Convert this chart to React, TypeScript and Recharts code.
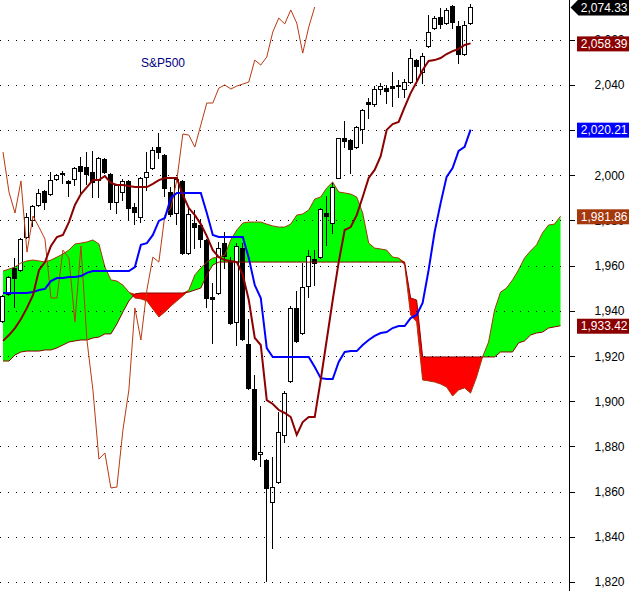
import React from "react";
import { ComposedChart, Bar, Line, Area, XAxis, YAxis, ReferenceLine } from "recharts";

const W = 629;
const H = 591;
const Y_MIN = 1816;
const Y_MAX = 2077.6;

const opens = [1935.5, 1947.5, 1959.0, 1958.1, 1972.7, 1980.2, 1986.9, 1993.1, 1991.7, 1998.4,
  2001.0, 1997.5, 1998.4, 2004.1, 2003.7, 2001.5, 1997.9, 2007.2, 2000.6, 1988.2,
  1992.6, 1997.5, 1986.0, 1981.5, 1999.3, 2003.2, 2012.5, 2009.0, 1992.6, 1983.3,
  1997.5, 1965.6, 1978.9, 1978.0, 1971.4, 1946.1, 1947.9, 1970.0, 1962.1, 1935.1,
  1967.8, 1925.3, 1905.4, 1876.6, 1874.0, 1855.4, 1864.3, 1885.1, 1909.0, 1941.3,
  1930.2, 1951.0, 1963.0, 1963.8, 1983.3, 1978.9, 1999.0, 2016.3, 2015.6, 2012.7,
  2020.7, 2032.5, 2031.6, 2038.2, 2038.6, 2039.5, 2039.5, 2038.2, 2041.3, 2051.0,
  2045.7, 2057.2, 2065.2, 2070.1, 2067.4, 2074.9, 2066.1, 2053.7, 2067.4];

const highs = [1947.0, 1955.5, 1963.4, 1972.2, 1983.3, 1986.8, 1993.9, 1993.5, 2001.5, 2000.5,
  2001.9, 1997.9, 2003.6, 2008.1, 2010.3, 2010.8, 2008.1, 2007.6, 2001.0, 1996.1,
  1998.4, 1997.9, 1987.7, 1999.2, 2010.3, 2012.5, 2018.7, 2009.4, 1994.8, 1999.3,
  1997.9, 1986.0, 1984.6, 1980.7, 1971.8, 1952.3, 1970.5, 1974.9, 1963.8, 1970.0,
  1970.0, 1936.4, 1911.6, 1897.9, 1874.4, 1875.3, 1895.2, 1904.5, 1942.1, 1948.8,
  1961.2, 1966.9, 1966.9, 1985.5, 1990.8, 1997.0, 2016.7, 2024.0, 2016.0, 2022.0,
  2029.5, 2034.2, 2039.5, 2040.9, 2040.0, 2045.7, 2042.2, 2042.6, 2055.9, 2051.4,
  2054.1, 2071.0, 2070.5, 2074.1, 2074.1, 2075.4, 2068.3, 2068.3, 2075.8];

const lows = [1935.0, 1947.0, 1941.7, 1957.8, 1972.3, 1977.6, 1986.5, 1985.1, 1991.3, 1998.0,
  1996.6, 1990.8, 1995.7, 1992.2, 1996.2, 1990.4, 1990.4, 2001.1, 1985.1, 1983.3,
  1989.1, 1980.7, 1978.4, 1979.3, 1993.5, 2002.8, 2007.7, 1990.8, 1982.0, 1978.4,
  1965.2, 1965.2, 1967.8, 1968.3, 1941.7, 1925.8, 1947.5, 1959.0, 1934.2, 1924.9,
  1927.1, 1905.5, 1874.0, 1871.3, 1820.4, 1835.0, 1863.9, 1882.0, 1908.6, 1926.3,
  1929.8, 1946.1, 1951.4, 1963.4, 1969.2, 1974.5, 1998.6, 2012.7, 2001.0, 2012.3,
  2014.1, 2025.4, 2030.7, 2036.0, 2032.0, 2030.7, 2034.7, 2034.7, 2040.9, 2040.9,
  2040.9, 2056.8, 2064.8, 2065.2, 2067.0, 2065.2, 2049.7, 2053.3, 2067.0];

const closes = [1946.6, 1955.0, 1954.5, 1971.8, 1981.5, 1986.4, 1992.2, 1988.2, 1997.9, 2000.1,
  2000.6, 1996.6, 2003.2, 2001.9, 2000.6, 1997.0, 2007.7, 2001.5, 1988.2, 1995.7,
  1997.5, 1985.5, 1983.8, 1998.8, 2001.5, 2011.2, 2010.3, 1994.4, 1982.9, 1998.4,
  1965.6, 1982.9, 1977.1, 1971.8, 1945.7, 1945.3, 1967.8, 1964.3, 1934.6, 1968.7,
  1927.5, 1905.9, 1874.4, 1877.5, 1861.6, 1862.0, 1886.4, 1903.6, 1941.3, 1926.7,
  1950.6, 1964.3, 1961.2, 1985.1, 1982.0, 1994.8, 2016.3, 2015.4, 2011.6, 2021.6,
  2029.1, 2031.6, 2038.2, 2039.5, 2037.3, 2038.6, 2040.0, 2041.3, 2051.9, 2048.4,
  2052.8, 2063.4, 2069.6, 2067.0, 2073.2, 2067.9, 2053.7, 2066.5, 2074.33];

const tenkan = [1926.7, 1929.3, 1932.4, 1936.4, 1941.3, 1947.0, 1958.0, 1961.6, 1968.7, 1972.7,
  1973.6, 1979.3, 1986.9, 1991.7, 1994.8, 1997.9, 1997.9, 1999.7, 1996.6, 1995.7,
  1995.7, 1995.3, 1994.8, 1994.8, 1994.8, 1996.2, 1997.9, 1998.8, 1998.8, 1998.8,
  1991.3, 1985.5, 1982.4, 1978.4, 1973.1, 1966.9, 1963.8, 1962.5, 1962.1, 1961.6,
  1955.9, 1944.8, 1928.0, 1924.9, 1900.5, 1898.8, 1896.1, 1894.8, 1893.0, 1885.1,
  1890.8, 1893.0, 1893.0, 1909.4, 1927.1, 1944.8, 1961.6, 1975.8, 1977.1, 1982.4,
  1990.4, 1998.8, 2002.4, 2008.5, 2020.1, 2022.7, 2023.6, 2030.2, 2036.4, 2041.3,
  2046.6, 2050.6, 2051.0, 2051.9, 2053.7, 2055.0, 2055.9, 2057.7, 2058.39];

const kijun = [1947.9, 1947.9, 1947.9, 1947.9, 1947.9, 1948.3, 1949.2, 1949.7, 1953.2, 1954.5,
  1954.5, 1955.0, 1955.0, 1955.4, 1956.8, 1957.6, 1957.6, 1957.6, 1957.6, 1957.6,
  1957.6, 1957.6, 1959.4, 1969.2, 1970.0, 1973.6, 1979.8, 1981.1, 1990.0, 1992.2,
  1992.2, 1992.2, 1992.2, 1992.2, 1983.3, 1973.6, 1972.7, 1972.7, 1972.7, 1972.7,
  1972.7, 1963.4, 1951.4, 1945.7, 1923.5, 1919.6, 1919.6, 1919.6, 1919.6, 1919.6,
  1919.6, 1919.6, 1915.1, 1910.2, 1909.8, 1909.8, 1917.4, 1921.8, 1922.2, 1922.2,
  1924.9, 1927.1, 1928.9, 1930.2, 1930.6, 1932.4, 1933.3, 1933.3, 1936.8, 1938.2,
  1943.5, 1958.1, 1974.9, 1987.7, 1999.3, 2003.2, 2010.8, 2012.6, 2020.21];

const lagging = [2010.3, 1992.6, 1983.3, 1997.5, 1966.0, 1982.0, 1977.1, 1971.8, 1945.7, 1945.7,
  1966.9, 1963.4, 1935.1, 1968.7, 1927.1, 1905.0, 1874.4, 1877.1, 1861.6, 1862.0,
  1887.2, 1905.0, 1941.3, 1927.1, 1949.2, 1963.8, 1961.6, 1982.4, 1985.5, 1997.9,
  2018.3, 2017.8, 2012.5, 2022.3, 2032.0, 2032.0, 2038.6, 2040.0, 2038.2, 2039.5,
  2040.4, 2041.3, 2051.0, 2048.8, 2052.4, 2063.4, 2069.6, 2067.0, 2073.2, 2067.4,
  2054.1, 2065.6, 2074.5];

const spanA = [1957.6, 1958.5, 1959.4, 1961.2, 1962.1, 1962.5, 1962.1, 1961.6, 1962.5, 1963.8,
  1965.2, 1966.9, 1969.6, 1970.0, 1970.5, 1971.4, 1969.6, 1959.4, 1953.7, 1953.2,
  1951.4, 1948.3, 1945.7, 1945.3, 1944.4, 1940.8, 1937.3, 1939.5, 1942.1, 1944.4,
  1946.6, 1949.2, 1955.9, 1959.0, 1961.6, 1963.4, 1963.8, 1964.7, 1971.4, 1975.8,
  1978.9, 1979.3, 1979.3, 1979.3, 1978.4, 1977.6, 1977.1, 1977.1, 1978.4, 1982.4,
  1982.9, 1984.6, 1989.5, 1990.4, 1994.4, 1997.0, 1992.6, 1992.2, 1991.7, 1990.4,
  1983.3, 1970.0, 1967.8, 1967.4, 1966.9, 1963.8, 1963.4, 1960.3, 1938.2, 1935.1,
  1909.4, 1909.0, 1908.5, 1907.6, 1906.3, 1902.3, 1905.0, 1905.9, 1903.6, 1910.7,
  1919.6, 1926.2, 1940.4, 1948.3, 1950.1, 1953.7, 1958.1, 1963.4, 1966.5, 1969.2,
  1974.5, 1978.0, 1978.4, 1981.86];

const spanB = [1917.8, 1917.8, 1920.5, 1921.8, 1922.2, 1922.2, 1922.2, 1922.7, 1922.7, 1923.6,
  1924.9, 1926.2, 1926.7, 1927.1, 1927.1, 1928.0, 1928.4, 1929.8, 1929.8, 1934.2,
  1939.5, 1944.4, 1947.5, 1947.9, 1947.9, 1947.9, 1947.9, 1947.9, 1947.9, 1947.9,
  1947.9, 1948.3, 1949.2, 1950.1, 1955.9, 1960.3, 1961.6, 1961.6, 1961.6, 1961.6,
  1961.6, 1961.6, 1961.6, 1961.6, 1961.6, 1961.6, 1961.6, 1961.6, 1961.6, 1961.6,
  1961.6, 1961.6, 1961.6, 1961.6, 1961.6, 1961.6, 1961.6, 1961.6, 1961.6, 1961.6,
  1961.6, 1961.6, 1961.6, 1961.6, 1961.6, 1961.6, 1961.6, 1961.6, 1945.7, 1944.8,
  1919.6, 1919.6, 1919.6, 1919.6, 1919.6, 1919.6, 1919.6, 1919.6, 1919.6, 1919.6,
  1919.6, 1919.6, 1919.6, 1921.8, 1921.8, 1921.8, 1925.8, 1926.7, 1929.3, 1930.2,
  1930.6, 1932.4, 1932.9, 1933.42];

const yTicks = [1820, 1840, 1860, 1880, 1900, 1920, 1940, 1960, 1980, 2000, 2020, 2040, 2060];
const title = "S&P500";

const N = 95;
const data = Array.from({ length: N }, (_, i) => {
  const hasC = i < opens.length;
  const a = i < spanA.length ? spanA[i] : null;
  const b = i < spanB.length ? spanB[i] : null;
  return {
    i,
    range: hasC ? [lows[i], highs[i]] : null,
    open: hasC ? opens[i] : null,
    close: hasC ? closes[i] : null,
    high: hasC ? highs[i] : null,
    low: hasC ? lows[i] : null,
    tenkan: i < tenkan.length ? tenkan[i] : null,
    kijun: i < kijun.length ? kijun[i] : null,
    lag: i < lagging.length ? lagging[i] : null,
    spanA: a,
    spanB: b,
    green: a != null && b != null ? [b, Math.max(a, b)] : null,
    red: a != null && b != null ? [a, Math.max(a, b)] : null,
  };
});

const FONT = '"Liberation Sans", Arial, sans-serif';

const Candle = (props: any) => {
  const { x, y, width, height, payload } = props;
  if (!payload || payload.high == null) return <g />;
  const { open, close, high, low } = payload;
  const top = Math.min(y, y + height);
  const bottom = Math.max(y, y + height);
  const ppu = high > low ? (bottom - top) / (high - low) : 0;
  const py = (v: number) => top + (high - v) * ppu;
  const cx = Math.floor(x + width / 2) + 0.5;
  const up = close >= open;
  const bTop = Math.round(py(Math.max(open, close))) + 0.5;
  const bBot = Math.round(py(Math.min(open, close))) + 0.5;
  const bh = Math.max(1, bBot - bTop);
  return (
    <g>
      <line x1={cx} x2={cx} y1={Math.round(top)} y2={Math.round(bottom) + 1} stroke="#000" strokeWidth={1} />
      <rect x={cx - 2} y={bTop} width={4} height={bh} fill={up ? "#fff" : "#000"} stroke="#000" strokeWidth={1} />
    </g>
  );
};

const fmtTick = (v: number) => v.toLocaleString("en-US");
const fmtVal = (v: number) => v.toLocaleString("en-US", { minimumFractionDigits: 2, maximumFractionDigits: 2 });

const tickLabel = (v: number) => (props: any) => {
  const vb = props.viewBox || {};
  const x0 = vb.x;
  const left = vb.x + vb.width;
  const y = vb.y;
  const yc = Math.round(y) + 0.5;
  return (
    <g>
      <line x1={x0} x2={left - 4} y1={yc} y2={yc} stroke="#000" strokeWidth={1} strokeDasharray="1 7" shapeRendering="crispEdges" />
      <line x1={left} x2={left + 5} y1={yc} y2={yc} stroke="#000" strokeWidth={1} shapeRendering="crispEdges" />
      <text x={left + 55} y={y + 4.5} textAnchor="end" fontFamily={FONT} fontSize={12} fill="#000">
        {fmtTick(v)}
      </text>
    </g>
  );
};

const tag = (v: number, bg: string, arrow: boolean) => (props: any) => {
  const vb = props.viewBox || {};
  const left = vb.x + vb.width;
  const y = vb.y;
  return (
    <g>
      {arrow ? (
        <polygon
          points={`${left + 1},${y} ${left + 9},${y - 8} ${W},${y - 8} ${W},${y + 8} ${left + 9},${y + 8}`}
          fill={bg}
        />
      ) : (
        <rect x={left + 7.5} y={y - 7} width={W - left - 7.5} height={15} fill={bg} />
      )}
      <text x={W - 1.5} y={y + 4.5} textAnchor="end" fontFamily={FONT} fontSize={12} fill="#fff">
        {fmtVal(v)}
      </text>
    </g>
  );
};

const last = (arr: number[]) => arr[arr.length - 1];

export default function App() {
  return (
    <div style={{ position: "absolute", left: 0, top: 0, width: W, height: H, background: "#fff" }}>
      <ComposedChart width={W} height={H} data={data} margin={{ top: 0, right: 0, bottom: 0, left: 0 }}>
        <XAxis dataKey="i" type="category" hide />
        <YAxis
          orientation="right"
          type="number"
          domain={[Y_MIN, Y_MAX]}
          allowDataOverflow
          width={59.5}
          axisLine={{ stroke: "#000" }}
          tick={false}
          tickLine={false}
        />
        <Area dataKey="green" type="linear" stroke="none" fill="#00ff00" fillOpacity={1} isAnimationActive={false} dot={false} activeDot={false} />
        <Area dataKey="red" type="linear" stroke="none" fill="#ff0000" fillOpacity={1} isAnimationActive={false} dot={false} activeDot={false} />
        <Line dataKey="spanA" type="linear" stroke="#a5380c" strokeWidth={1} dot={false} activeDot={false} isAnimationActive={false} />
        <Line dataKey="spanB" type="linear" stroke="#8b0000" strokeWidth={1} dot={false} activeDot={false} isAnimationActive={false} />
        {yTicks.map((t) => (
          <ReferenceLine key={"g" + t} y={t} stroke="none" label={tickLabel(t)} />
        ))}
        <Line dataKey="lag" type="linear" stroke="#b83a10" strokeWidth={1} dot={false} activeDot={false} isAnimationActive={false} />
        <Line dataKey="kijun" type="linear" stroke="#0000ff" strokeWidth={2} dot={false} activeDot={false} isAnimationActive={false} />
        <Line dataKey="tenkan" type="linear" stroke="#8b0000" strokeWidth={2} dot={false} activeDot={false} isAnimationActive={false} />
        <Bar dataKey="range" shape={Candle} barSize={5} isAnimationActive={false} />
        <ReferenceLine y={last(closes)} stroke="none" label={tag(last(closes), "#000000", true)} />
        <ReferenceLine y={last(tenkan)} stroke="none" label={tag(last(tenkan), "#8b0000", false)} />
        <ReferenceLine y={last(kijun)} stroke="none" label={tag(last(kijun), "#0000ff", false)} />
        <ReferenceLine y={last(spanA)} stroke="none" label={tag(last(spanA), "#a5380c", false)} />
        <ReferenceLine y={last(spanB)} stroke="none" label={tag(last(spanB), "#8b0000", false)} />
      </ComposedChart>
      <div
        style={{
          position: "absolute",
          left: 141,
          top: 56,
          fontFamily: FONT,
          fontSize: 12,
          color: "#000080",
          whiteSpace: "nowrap",
        }}
      >
        {title}
      </div>
    </div>
  );
}
